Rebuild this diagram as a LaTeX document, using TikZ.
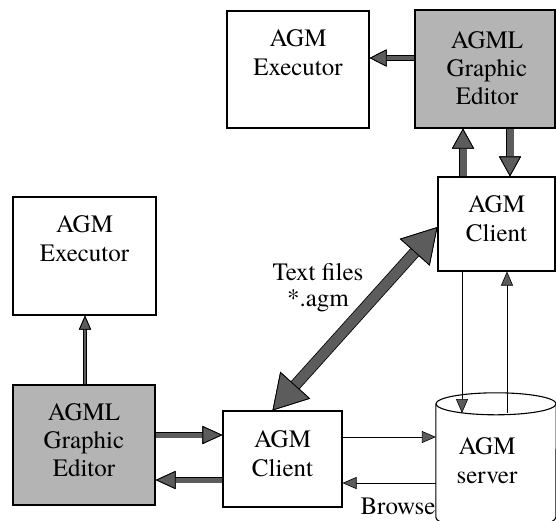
\documentclass[tikz,border=0pt]{standalone}
\usepackage{fontspec}
\setmainfont{texgyretermes}[Extension=.otf, UprightFont=*-regular, BoldFont=*-bold]
\usetikzlibrary{arrows.meta}
\definecolor{boxgray}{RGB}{180,180,180}
\definecolor{arrgray}{RGB}{92,92,92}
% #1 inner width, #2 outer width, #3 tip length, #4 tip width, #5 path
\newcommand{\fatone}[5]{%
  \draw[line width=#2, black, arrows={-Triangle[length=#3,width=#4,line width=.8pt]}] #5;
  \draw[line width=#1, arrgray, arrows={-Triangle[length=#3,width=#4,line width=.8pt,color=black,fill=arrgray]}] #5;}
\newcommand{\fattwo}[5]{%
  \draw[line width=#2, black, arrows={Triangle[length=#3,width=#4,line width=.8pt]-Triangle[length=#3,width=#4,line width=.8pt]}] #5;
  \draw[line width=#1, arrgray, arrows={Triangle[length=#3,width=#4,line width=.8pt,color=black,fill=arrgray]-Triangle[length=#3,width=#4,line width=.8pt,color=black,fill=arrgray]}] #5;}
\begin{document}
\begin{tikzpicture}[x=1pt,y=-1pt,
  box/.style={draw, line width=1.1pt, rectangle, inner sep=0pt},
  edbox/.style={box, fill=boxgray},
  lbl/.style={font=\fontsize{25}{29}\selectfont, align=center, inner sep=0pt, anchor=north, yshift=-18.5pt},
  edlbl/.style={lbl, font=\fontsize{25}{28}\selectfont},
  txt/.style={font=\fontsize{25}{26}\selectfont, align=center, inner sep=0pt},
  thin/.style={line width=0.9pt, arrows={-Triangle[length=14pt,width=12pt,line width=.6pt,color=black,fill=arrgray]}}]
\useasboundingbox[fill=white] (0,0) rectangle (556,520);

% boxes
\node[box, minimum width=142pt, minimum height=117pt, label={[lbl]north:AGM\\Executor}] (exT) at (298,69.5) {};
\node[edbox, minimum width=140pt, minimum height=118pt, label={[edlbl, yshift=-3pt, xshift=2pt]north:AGML\\Graphic\\Editor}] (edT) at (485,69) {};
\node[box, minimum width=117pt, minimum height=94pt, label={[lbl]north:AGM\\Client}] (clT) at (496.5,224) {};
\node[box, minimum width=143pt, minimum height=118pt, label={[lbl]north:AGM\\Executor}] (exL) at (84.5,256) {};
\node[edbox, minimum width=142pt, minimum height=120pt, label={[edlbl]north:AGML\\Graphic\\Editor}] (edL) at (84,445) {};
\node[box, minimum width=119pt, minimum height=96pt, label={[lbl, yshift=-1pt]north:AGM\\Client}] (clL) at (282.5,459) {};

% server cylinder
\node[rectangle, inner sep=0pt, minimum width=120pt, minimum height=113pt, label={[lbl, yshift=-15pt, xshift=-9pt]north:AGM\\server}] (srv) at (496,460.5) {};
\draw[line width=1.1pt] (srv.north west) -- (srv.south west)
  arc[start angle=180, end angle=360, x radius=60pt, y radius=12pt] -- (srv.north east);
\draw[line width=1.1pt] (srv.north) ellipse[x radius=60pt, y radius=11pt];
\coordinate (srvtop) at (496,413);

% labels
\node[txt, anchor=north] (tf) at (318,263.5) {Text files\\*.agm};
\node[txt, anchor=base] (br) at (398,514) {Browse};

% thick arrows
\fatone{4.5pt}{6.1pt}{17pt}{17pt}{(edT.west |- 0,58) -- (exT.east |- 0,58)}
\fatone{7pt}{8.6pt}{20pt}{22pt}{(clT.north -| 463,0) -- (edT.south -| 463,0)}
\fatone{7pt}{8.6pt}{20pt}{22pt}{(edT.south -| 510,0) -- (clT.north -| 510,0)}
\fatone{2.5pt}{3.4pt}{14pt}{12pt}{(edL.north -| 85,0) -- (exL.south -| 85,0)}
\fatone{5pt}{6.6pt}{20pt}{18pt}{(edL.east |- 0,435) -- (clL.west |- 0,435)}
\fatone{5pt}{6.6pt}{20pt}{18pt}{(clL.west |- 0,480) -- (edL.east |- 0,480)}
\fattwo{10pt}{11.6pt}{34pt}{40pt}{([xshift=-10pt]clL.north) -- ([yshift=-3pt]clT.west)}

% thin arrows
\draw[thin] (clT.south -| 462,0) -- (srvtop -| 462,0);
\draw[thin] (srvtop -| 507,0) -- (clT.south -| 507,0);
\draw[thin] (clL.east |- 0,437) -- (srv.west |- 0,437);
\draw[thin] (srv.west |- 0,483) -- (clL.east |- 0,483);
\end{tikzpicture}
\end{document}
